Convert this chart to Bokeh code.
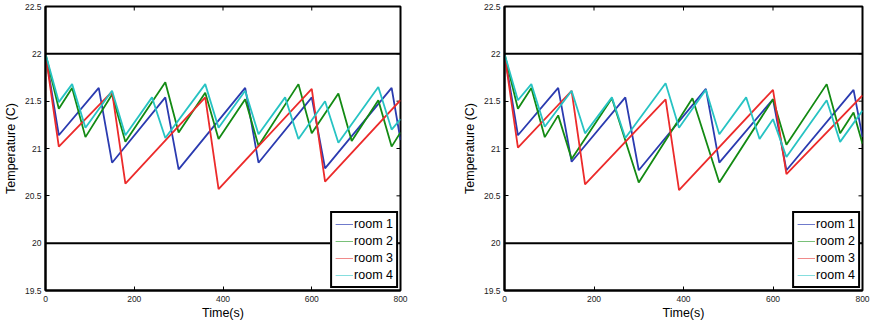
import math
from bokeh.plotting import figure
from bokeh.layouts import row
from bokeh.models import Range1d, FixedTicker, Legend, LegendItem, Span
from bokeh.embed import file_html
from bokeh.resources import INLINE

# ---- data ----
room_names = ["room 1", "room 2", "room 3", "room 4"]
colors = ["#2b3bb0", "#138a13", "#ec2b2b", "#27c3c3"]
legend_colors = ["#6f7acb", "#79c079", "#f08a8a", "#86dede"]
limits = [20, 22]
x_ticks = [0, 200, 400, 600, 800]
y_ticks = [19.5, 20, 20.5, 21, 21.5, 22, 22.5]
x_lim = (0, 800)
y_lim = (19.5, 22.5)

# left panel
l_room1_t = [0, 30, 120, 150, 270, 300, 450, 480, 600, 630, 780, 800]
l_room1_v = [22, 21.14, 21.64, 20.85, 21.54, 20.78, 21.64, 20.85, 21.54, 20.79, 21.64, 21.09]
l_room2_t = [0, 30, 60, 90, 150, 180, 270, 300, 360, 390, 450, 480, 570, 600, 660, 690, 750, 780, 800]
l_room2_v = [22, 21.42, 21.64, 21.12, 21.57, 21.07, 21.70, 21.17, 21.59, 21.10, 21.52, 21.03, 21.68, 21.16, 21.58, 21.08, 21.51, 21.02, 21.17]
l_room3_t = [0, 30, 150, 180, 360, 390, 600, 630, 800]
l_room3_v = [22, 21.02, 21.60, 20.63, 21.54, 20.57, 21.63, 20.65, 21.51]
l_room4_t = [0, 30, 60, 90, 150, 180, 240, 270, 360, 390, 450, 480, 540, 570, 630, 660, 750, 780, 800]
l_room4_v = [22, 21.49, 21.68, 21.22, 21.61, 21.14, 21.54, 21.11, 21.68, 21.22, 21.61, 21.15, 21.54, 21.10, 21.50, 21.06, 21.65, 21.20, 21.31]

# right panel
r_room1_t = [0, 30, 120, 150, 270, 300, 450, 480, 600, 630, 780, 800]
r_room1_v = [22, 21.14, 21.64, 20.86, 21.54, 20.77, 21.63, 20.85, 21.52, 20.77, 21.62, 21.12]
r_room2_t = [0, 30, 60, 90, 120, 150, 240, 300, 420, 480, 600, 630, 720, 750, 780, 800]
r_room2_v = [22, 21.42, 21.64, 21.12, 21.35, 20.89, 21.53, 20.64, 21.53, 20.64, 21.52, 21.04, 21.68, 21.16, 21.38, 21.05]
r_room3_t = [0, 30, 150, 180, 360, 390, 600, 630, 800]
r_room3_v = [22, 21.01, 21.61, 20.62, 21.52, 20.56, 21.62, 20.73, 21.56]
r_room4_t = [0, 30, 60, 90, 150, 180, 240, 270, 360, 390, 450, 480, 540, 570, 600, 630, 720, 750, 800]
r_room4_v = [22, 21.51, 21.68, 21.23, 21.61, 21.16, 21.54, 21.11, 21.69, 21.22, 21.62, 21.15, 21.54, 21.10, 21.31, 20.91, 21.51, 21.07, 21.40]

left_series = [(l_room1_t, l_room1_v), (l_room2_t, l_room2_v), (l_room3_t, l_room3_v), (l_room4_t, l_room4_v)]
right_series = [(r_room1_t, r_room1_v), (r_room2_t, r_room2_v), (r_room3_t, r_room3_v), (r_room4_t, r_room4_v)]

FONT = "Liberation Sans"


def make_panel(series, width, border_left, border_right):
    p = figure(width=width, height=324, output_backend="svg", toolbar_location=None,
               x_range=Range1d(*x_lim), y_range=Range1d(*y_lim),
               min_border_left=border_left, min_border_right=border_right,
               min_border_top=6, min_border_bottom=34,
               x_axis_label="Time(s)", y_axis_label="Temperature (C)")
    p.background_fill_color = "white"
    p.border_fill_color = "white"
    p.grid.visible = False
    p.outline_line_color = "black"
    p.outline_line_width = 2

    for ax in (p.xaxis[0], p.yaxis[0]):
        ax.axis_line_color = "black"
        ax.axis_line_width = 2
        ax.major_tick_in = 4
        ax.major_tick_out = 0
        ax.minor_tick_line_color = None
        ax.major_tick_line_color = "black"
        ax.major_tick_line_width = 1
        ax.major_label_text_font = FONT
        ax.major_label_text_font_size = "8.5px"
        ax.major_label_text_color = "#222222"
        ax.axis_label_text_font = FONT
        ax.axis_label_text_font_size = "12.5px"
        ax.axis_label_text_font_style = "normal"
        ax.axis_label_text_color = "black"
    p.xaxis[0].ticker = FixedTicker(ticks=x_ticks)
    p.yaxis[0].ticker = FixedTicker(ticks=y_ticks)
    p.xaxis[0].major_label_standoff = 5
    p.xaxis[0].axis_label_standoff = 1
    p.yaxis[0].major_label_standoff = 4
    p.yaxis[0].axis_label_standoff = 4
    p.yaxis[0].major_label_overrides = {22.0: "22", 21.0: "21", 20.0: "20"}

    # mirrored inward ticks on the top and right frame edges
    p.ray(x=x_ticks, y=[y_lim[1]] * len(x_ticks), length=4, length_units="screen",
          angle=-math.pi / 2, line_color="black", line_width=1)
    p.ray(x=[x_lim[1]] * len(y_ticks), y=y_ticks, length=4, length_units="screen",
          angle=math.pi, line_color="black", line_width=1)

    for lim in limits:
        p.add_layout(Span(location=lim, dimension="width", line_color="black", line_width=2))

    for (t, v), c in zip(series, colors):
        p.line(t, v, line_color=c, line_width=1.8)

    items = []
    for name, c, (t, v) in zip(room_names, legend_colors, series):
        r = p.line(t[:1], v[:1], line_color=c, line_width=1)
        items.append(LegendItem(label=name, renderers=[r]))
    leg = Legend(items=items, location="bottom_right")
    leg.margin = 2
    leg.padding = 3
    leg.spacing = 1
    leg.glyph_width = 18
    leg.glyph_height = 16
    leg.label_height = 16
    leg.label_standoff = 1
    leg.label_text_font = FONT
    leg.label_text_font_size = "12.5px"
    leg.label_text_color = "black"
    leg.border_line_color = "black"
    leg.border_line_alpha = 1
    leg.border_line_width = 2
    leg.background_fill_color = "white"
    leg.background_fill_alpha = 1
    p.add_layout(leg, "center")
    return p


p1 = make_panel(left_series, 440, 43, 40)
p2 = make_panel(right_series, 430, 64, 8)

layout = row(p1, p2)
open("out.html", "w").write(file_html(layout, INLINE))
